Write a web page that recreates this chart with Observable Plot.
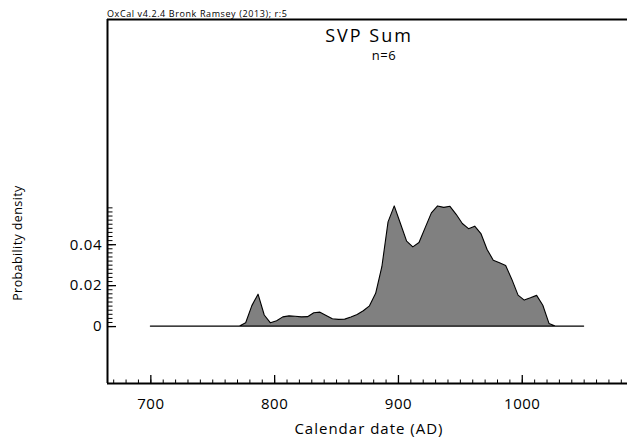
<!DOCTYPE html>
<html><head><meta charset="utf-8">
<script src="https://cdn.jsdelivr.net/npm/d3@7"></script>
<script src="https://cdn.jsdelivr.net/npm/@observablehq/plot@0.6"></script>
<style>
html,body{margin:0;padding:0;background:#fff;}
#chart svg{display:block;}
#chart g[aria-label="x-axis tick label"] text{letter-spacing:0.5px;}
#chart g[aria-label="y-axis tick label"] text{letter-spacing:0.8px;}
</style></head><body><div id="chart"></div>
<script>
// Calendar years (AD) and summed probability density
const years = [700, 772, 777, 782, 787, 792, 797, 802, 807, 812, 817, 822, 827, 832, 837, 842, 847, 852, 857, 862, 867, 872, 877, 882, 887, 892, 897, 902, 907, 912, 917, 922, 927, 932, 937, 942, 947, 952, 957, 962, 967, 972, 977, 982, 987, 992, 997, 1002, 1007, 1012, 1017, 1022, 1027, 1050];
const density = [0, 0, 0.0016, 0.0100, 0.0156, 0.0054, 0.0016, 0.0026, 0.0045, 0.0050, 0.0048, 0.0045, 0.0046, 0.0065, 0.0068, 0.0052, 0.0036, 0.0033, 0.0034, 0.0044, 0.0057, 0.0075, 0.0099, 0.0160, 0.0290, 0.0509, 0.0587, 0.0501, 0.0415, 0.0387, 0.0408, 0.0481, 0.0553, 0.0587, 0.0580, 0.0585, 0.0546, 0.0501, 0.0476, 0.0488, 0.0452, 0.0374, 0.0322, 0.0309, 0.0296, 0.0228, 0.0151, 0.0127, 0.0138, 0.0150, 0.0102, 0.0013, 0, 0];

const xTickValues = [700, 800, 900, 1000];
const xTickLabels = ["700", "800", "900", "1000"];
const yTickValues = [0, 0.02, 0.04];
const yTickLabels = ["0", "0.02", "0.04"];
const xDomain = [665, 1085];
const yDomain = [-0.0278, 0.150];
const xMinorStep = 10;
const yMinorStep = 0.002;
const yMinorMax = 0.058;

const headerText = "OxCal v4.2.4 Bronk Ramsey (2013); r:5";
const titleText = "SVP Sum";
const subtitleText = "n=6";
const xLabelText = "Calendar date (AD)";
const yLabelText = "Probability density";

const W = 627, H = 439, mL = 107, mR = 0, mT = 19, mB = 56;
const frameW = W - mL - mR, frameH = H - mT - mB;

const data = years.map((year, i) => ({year, p: density[i]}));
const xMinor = d3.range(670, xDomain[1], xMinorStep);
const yMinor = d3.range(0, Math.round(yMinorMax / yMinorStep) + 1).map(i => +(i * yMinorStep).toFixed(4));

const font = "'Open Sans', sans-serif";

const plot = Plot.plot({
  width: W, height: H,
  marginLeft: mL, marginRight: mR, marginTop: mT, marginBottom: mB,
  style: {fontFamily: font, fontSize: "15px", color: "#000", background: "#fff"},
  x: {domain: xDomain, axis: null, label: null},
  y: {domain: yDomain, axis: null, label: null},
  marks: [
    Plot.areaY(data, {x: "year", y: "p", fill: "#808080", stroke: "#000", strokeWidth: 1.1, strokeLinejoin: "round"}),
    Plot.tickX(xMinor, {x: d => d, insetTop: frameH - 3.5, stroke: "#000", strokeWidth: 1}),
    Plot.tickX(xTickValues, {x: d => d, insetTop: frameH - 8, stroke: "#000", strokeWidth: 1.3}),
    Plot.tickY(yMinor, {y: d => d, insetRight: frameW - 5.5, stroke: "#000", strokeWidth: 1}),
    Plot.tickY(yTickValues, {y: d => d, insetRight: frameW - 9, stroke: "#000", strokeWidth: 1.3}),
    Plot.axisX(xTickValues, {tickSize: 0, tickPadding: 15, fontSize: 15, label: null, tickFormat: d => xTickLabels[xTickValues.indexOf(d)]}),
    Plot.axisY(yTickValues, {tickSize: 0, tickPadding: 5, fontSize: 15, label: null, tickFormat: d => yTickLabels[yTickValues.indexOf(d)]}),
    Plot.ruleX([xDomain[0]], {stroke: "#000", strokeWidth: 2}),
    Plot.ruleY([yDomain[0]], {stroke: "#000", strokeWidth: 2}),
    Plot.ruleY([yDomain[1]], {stroke: "#000", strokeWidth: 2})
  ]
});

const svg = d3.select(plot);
const addText = (txt, x, y, size, opts = {}) => {
  const t = svg.append("text")
    .attr("x", x).attr("y", y)
    .attr("font-family", font)
    .attr("font-size", size)
    .attr("fill", "#000")
    .attr("text-anchor", opts.anchor || "start")
    .style("letter-spacing", (opts.ls || 0) + "px")
    .text(txt);
  if (opts.transform) t.attr("transform", opts.transform);
  return t;
};
addText(headerText, mL, 16.5, 9, {ls: 0.6});
addText(titleText, 369, 42, 18, {anchor: "middle", ls: 2});
addText(subtitleText, 384, 60, 13, {anchor: "middle", ls: 0.5});
addText(xLabelText, 369, 434, 15, {anchor: "middle", ls: 1});
addText(yLabelText, 0, 0, 12.5, {anchor: "middle", ls: 0.4, transform: "translate(22,243) rotate(-90)"});

document.getElementById("chart").appendChild(plot);
</script>
</body></html>
